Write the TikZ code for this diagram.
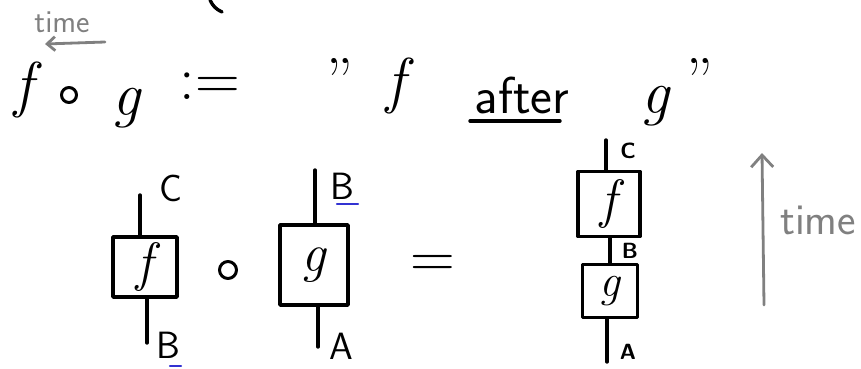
\documentclass[tikz,border=0pt]{standalone}
\usetikzlibrary{arrows.meta}
\definecolor{pen}{RGB}{0,0,0}
\definecolor{graypen}{RGB}{128,128,128}
\definecolor{bluepen}{RGB}{50,50,210}
\begin{document}
\begin{tikzpicture}[x=1pt,y=-1pt,
  ink/.style={draw=pen,line width=3.4pt,line cap=round,line join=round},
  gink/.style={draw=graypen,line width=2.8pt,line cap=round,line join=round},
  morph/.style={ink,minimum width=#1,inner sep=0pt},
  comp/.style={circle,ink,line width=3pt,minimum width=#1,minimum height=0.7*#1,inner sep=0pt},
  lbl/.style={font=\fontsize{38}{38}\selectfont\sffamily,inner sep=0pt},
  slbl/.style={font=\fontsize{22}{22}\selectfont\sffamily\bfseries,inner sep=0pt},
  big/.style={font=\fontsize{62}{62}\selectfont\itshape,inner sep=0pt},
  bigup/.style={font=\fontsize{62}{62}\selectfont,inner sep=0pt},
  boxtxt/.style={font=\fontsize{54}{54}\selectfont\itshape,inner sep=0pt}]
\useasboundingbox (0,0) rectangle (861,369);
% top fragment
\draw[ink] (210,0) to[bend right=20] (222,12);
% top-left time with arrow
\node[font=\fontsize{32}{32}\selectfont\sffamily,text=graypen,inner sep=0pt] (t1) at (62,22) {time};
\coordinate (ta) at (105,42);
\coordinate (tb) at (45,44);
\draw[gink,-{Straight Barb[length=8pt,width=14pt]}] (ta) -- (tb);
% definition line
\node[big] (f1) at (24,90) {f};
\node[comp=15pt] (o1) at (69,95) {};
\node[big] (g1) at (126,108) {g};
\node[bigup] (def) at (210,86) {:=};
\node[bigup,anchor=north] (q1) at (340,58) {''};
\node[big] (f2) at (396,86) {f};
\node[font=\fontsize{52}{52}\selectfont\sffamily,inner sep=0pt] (after) at (522,95) {after};
\coordinate (ua) at (470,121);
\coordinate (ub) at (560,121);
\draw[ink] (ua) -- (ub);
\node[big] (g2) at (655,106) {g};
\node[bigup,anchor=north] (q2) at (700,58) {''};
% left: f box
\node[morph=64pt,minimum height=60pt,boxtxt] (fL) at (145,267) {f};
\coordinate (fLt) at (140,195);
\coordinate (fLb) at (147,343);
\draw[ink] (fL.north -| fLt) -- (fLt);
\draw[ink] (fL.south -| fLb) -- (fLb);
\node[lbl] (C1) at (171,188) {C};
\node[lbl] (B1) at (168,345) {B};
\coordinate (bu1) at (170,366);
\coordinate (bu2) at (181,366);
\draw[line width=2.4pt,draw=bluepen,line cap=round] (bu1) -- (bu2);
% compose
\node[comp=17pt] (o2) at (228,270) {};
% g box
\node[morph=68pt,minimum height=80pt,boxtxt] (gL) at (314,265) {g};
\coordinate (gLt) at (315,170);
\coordinate (gLb) at (318,347);
\draw[ink] (gL.north -| gLt) -- (gLt);
\draw[ink] (gL.south -| gLb) -- (gLb);
\node[lbl] (B2) at (342,186) {B};
\coordinate (bu3) at (337,204);
\coordinate (bu4) at (358,204);
\draw[line width=2.4pt,draw=bluepen,line cap=round] (bu3) -- (bu4);
\node[lbl] (A1) at (341,346) {A};
% equals
\node[bigup] (eq) at (433,266) {=};
% right composite
\node[morph=62pt,minimum height=65pt,boxtxt] (fR) at (609,204) {f};
\node[morph=55pt,minimum height=53pt,font=\fontsize{46}{46}\selectfont\itshape,inner sep=0pt] (gR) at (610,291) {g};
\coordinate (fRt) at (606,140);
\coordinate (gRb) at (607,362);
\draw[ink] (fR.north -| fRt) -- (fRt);
\draw[ink] (fR.south -| gR.north) -- (gR.north);
\draw[ink] (gR.south -| gRb) -- (gRb);
\node[slbl] (C2) at (628,151) {C};
\node[slbl] (B3) at (630,251) {B};
\node[slbl] (A2) at (628,352) {A};
% time arrow
\coordinate (tu) at (764,305);
\coordinate (td) at (762,153);
\draw[gink,-{Straight Barb[length=12pt,width=22pt]}] (tu) -- (td);
\node[font=\fontsize{44}{44}\selectfont\sffamily,text=graypen,inner sep=0pt] (t2) at (818,220) {time};
\end{tikzpicture}
\end{document}
